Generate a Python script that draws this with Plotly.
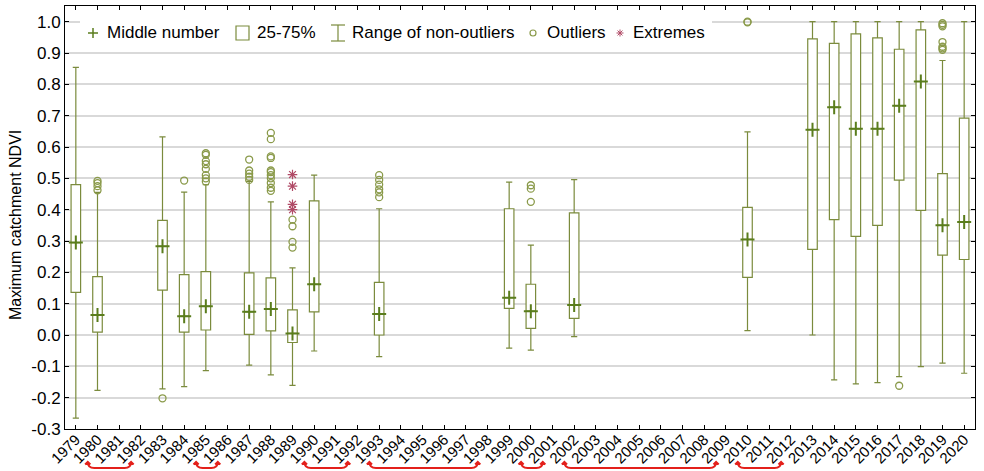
import plotly.graph_objects as go

# ---------------- data ----------------
all_years = list(range(1979, 2021))
box_years = [1979, 1980, 1983, 1984, 1985, 1987, 1988, 1989, 1990, 1993, 1999, 2000, 2002,
             2010, 2013, 2014, 2015, 2016, 2017, 2018, 2019, 2020]
lower = [-0.265, -0.177, -0.172, -0.165, -0.114, -0.096, -0.127, -0.161, -0.051, -0.069, -0.042, -0.048, -0.005,
         0.014, 0.000, -0.143, -0.156, -0.152, -0.133, -0.101, -0.090, -0.122]
q1 = [0.136, 0.009, 0.143, 0.009, 0.016, 0.002, 0.013, -0.024, 0.074, 0.000, 0.085, 0.021, 0.053,
      0.184, 0.273, 0.368, 0.315, 0.350, 0.494, 0.398, 0.255, 0.241]
median = [0.295, 0.064, 0.283, 0.060, 0.092, 0.074, 0.083, 0.005, 0.162, 0.067, 0.119, 0.076, 0.096,
          0.305, 0.655, 0.727, 0.658, 0.658, 0.732, 0.809, 0.350, 0.361]
q3 = [0.480, 0.186, 0.366, 0.193, 0.202, 0.198, 0.182, 0.080, 0.428, 0.168, 0.403, 0.162, 0.390,
      0.407, 0.945, 0.931, 0.961, 0.948, 0.912, 0.974, 0.515, 0.692]
upper = [0.854, 0.455, 0.632, 0.456, 0.480, 0.490, 0.425, 0.214, 0.510, 0.403, 0.488, 0.287, 0.496,
         0.648, 1.000, 1.000, 1.000, 1.000, 1.000, 1.000, 0.876, 1.000]

outlier_years = ([1980] * 4 + [1983] + [1984] + [1985] * 8 + [1987] * 5 + [1988] * 11 + [1989] * 4 +
                 [1993] * 6 + [2000] * 3 + [2010] * 2 + [2017] + [2019] * 7)
outlier_values = ([0.462, 0.475, 0.485, 0.492] + [-0.202] + [0.493] +
                  [0.49, 0.50, 0.51, 0.53, 0.545, 0.555, 0.575, 0.58] +
                  [0.495, 0.505, 0.515, 0.525, 0.56] +
                  [0.46, 0.47, 0.485, 0.50, 0.51, 0.52, 0.525, 0.565, 0.57, 0.625, 0.645] +
                  [0.279, 0.297, 0.347, 0.368] +
                  [0.44, 0.455, 0.465, 0.48, 0.495, 0.51] +
                  [0.425, 0.467, 0.478] + [0.998, 1.0] + [-0.162] +
                  [0.91, 0.915, 0.92, 0.935, 0.985, 0.99, 0.995])
extreme_years = [1989, 1989, 1989, 1989]
extreme_values = [0.400, 0.417, 0.475, 0.512]

bracket_pairs = [(1980, 1982), (1985, 1986), (1990, 1992), (1993, 1998), (2000, 2001), (2002, 2009), (2010, 2012)]

y_ticks = [round(-0.3 + 0.1 * i, 1) for i in range(14)]
y_tick_text = ["%.1f" % v for v in y_ticks]
legend_labels = ["Middle number", "25-75%", "Range of non-outliers", "Outliers", "Extremes"]

# ---------------- style ----------------
BOX_C = "#7b8b3d"
MED_C = "#5a7d1c"
OUT_C = "#8a9a4a"
EXT_C = "#b04a66"
RED = "#e3201b"
FONT = "Liberation Sans, Arial, sans-serif"
W, H = 984, 471
L, R, T, B = 65, 975, 6, 429


def px(xp):
    return (xp - L) / (R - L)


def py(yp):
    return (B - yp) / (B - T)


fig = go.Figure()
fig.add_trace(go.Box(
    x=box_years, q1=q1, median=median, q3=q3, lowerfence=lower, upperfence=upper,
    width=0.44, whiskerwidth=0.65, fillcolor="white",
    line=dict(color=BOX_C, width=1.2), boxpoints=False, showlegend=False, hoverinfo="skip"))
fig.add_trace(go.Scatter(
    x=box_years, y=median, mode="markers", showlegend=False,
    marker=dict(symbol="cross-thin", size=10, line=dict(color=MED_C, width=2))))
fig.add_trace(go.Scatter(
    x=outlier_years, y=outlier_values, mode="markers", showlegend=False,
    marker=dict(symbol="circle-open", size=7, color=OUT_C, line=dict(color=OUT_C, width=1.3))))
fig.add_trace(go.Scatter(
    x=extreme_years, y=extreme_values, mode="markers", showlegend=False,
    marker=dict(symbol="asterisk-open", size=8, color=EXT_C, line=dict(color=EXT_C, width=1.2))))

shapes = []
annotations = []

# brackets under axis labels
ytop, ybot = py(462), py(468)
for a, b in bracket_pairs:
    x0, x1 = a - 0.45, b - 0.45
    d = 0.3
    path = (f"M {x0},{ytop} Q {x0},{ybot} {x0 + d},{ybot} L {x1 - d},{ybot} Q {x1},{ybot} {x1},{ytop}"
            f" M {x0 - 0.12},{py(464.5)} L {x0},{ytop} L {x0 + 0.12},{py(464.5)}"
            f" M {x1 - 0.12},{py(464.5)} L {x1},{ytop} L {x1 + 0.12},{py(464.5)}")
    shapes.append(dict(type="path", path=path, xref="x", yref="paper",
                       line=dict(color=RED, width=2)))

# legend
shapes.append(dict(type="rect", xref="paper", yref="paper", x0=px(80), x1=px(712), y0=py(48), y1=py(15),
                   fillcolor="white", line=dict(width=0), layer="above"))
ly = 33
# plus
shapes.append(dict(type="line", xref="paper", yref="paper", x0=px(88), x1=px(98), y0=py(ly), y1=py(ly),
                   line=dict(color=MED_C, width=1.5)))
shapes.append(dict(type="line", xref="paper", yref="paper", x0=px(93), x1=px(93), y0=py(ly - 5), y1=py(ly + 5),
                   line=dict(color=MED_C, width=1.5)))
# box
shapes.append(dict(type="rect", xref="paper", yref="paper", x0=px(236), x1=px(249), y0=py(40), y1=py(26),
                   fillcolor="white", line=dict(color=BOX_C, width=1.2)))
# I-beam
for (xa, xb, ya, yb) in [(331, 345, 25, 25), (331, 345, 41, 41), (338, 338, 25, 41)]:
    shapes.append(dict(type="line", xref="paper", yref="paper", x0=px(xa), x1=px(xb), y0=py(ya), y1=py(yb),
                       line=dict(color=BOX_C, width=1.2)))
# circle
shapes.append(dict(type="circle", xref="paper", yref="paper", x0=px(530), x1=px(536), y0=py(ly + 3), y1=py(ly - 3),
                   line=dict(color=OUT_C, width=1.2)))
# asterisk
cx, r = 620, 3.5
for (dx, dy) in [(0, r), (r, 0), (r * 0.7, r * 0.7), (r * 0.7, -r * 0.7)]:
    shapes.append(dict(type="line", xref="paper", yref="paper", x0=px(cx - dx), x1=px(cx + dx),
                       y0=py(ly - dy), y1=py(ly + dy), line=dict(color=EXT_C, width=1)))

for lab, xs in zip(legend_labels, [105, 255, 350, 545, 631]):
    annotations.append(dict(text=lab, x=px(xs), y=py(ly), xref="paper", yref="paper",
                            xanchor="left", yanchor="middle", showarrow=False,
                            font=dict(family=FONT, size=17, color="black")))

annotations.append(dict(text="Maximum catchment NDVI", x=px(15), y=py(225), xref="paper", yref="paper",
                        textangle=-90, showarrow=False, xanchor="center", yanchor="middle",
                        font=dict(family=FONT, size=16, color="black")))

fig.update_layout(
    width=W, height=H, margin=dict(l=L, r=W - R, t=T, b=H - B, autoexpand=False),
    paper_bgcolor="white", plot_bgcolor="white",
    font=dict(family=FONT, size=17, color="black"),
    shapes=shapes, annotations=annotations, showlegend=False,
    xaxis=dict(range=[1978.5, 2020.5], tickmode="array", tickvals=all_years,
               ticktext=[str(y) for y in all_years], tickangle=-45, automargin=False,
               ticklabelstandoff=-5,
               ticks="inside", ticklen=4, tickcolor="black", showline=True, linecolor="black", linewidth=1,
               mirror="ticks", showgrid=False, zeroline=False,
               tickfont=dict(family=FONT, size=15, color="black")),
    yaxis=dict(range=[-0.3, 1.05], tickmode="array", tickvals=y_ticks, ticktext=y_tick_text,
               automargin=False,
               ticks="inside", ticklen=4, tickcolor="black", showline=True, linecolor="black", linewidth=1,
               mirror="ticks", showgrid=True, gridcolor="#d9d9d9", gridwidth=1.5, zeroline=False,
               tickfont=dict(family=FONT, size=17, color="black")),
)

fig.write_html("out.html")
